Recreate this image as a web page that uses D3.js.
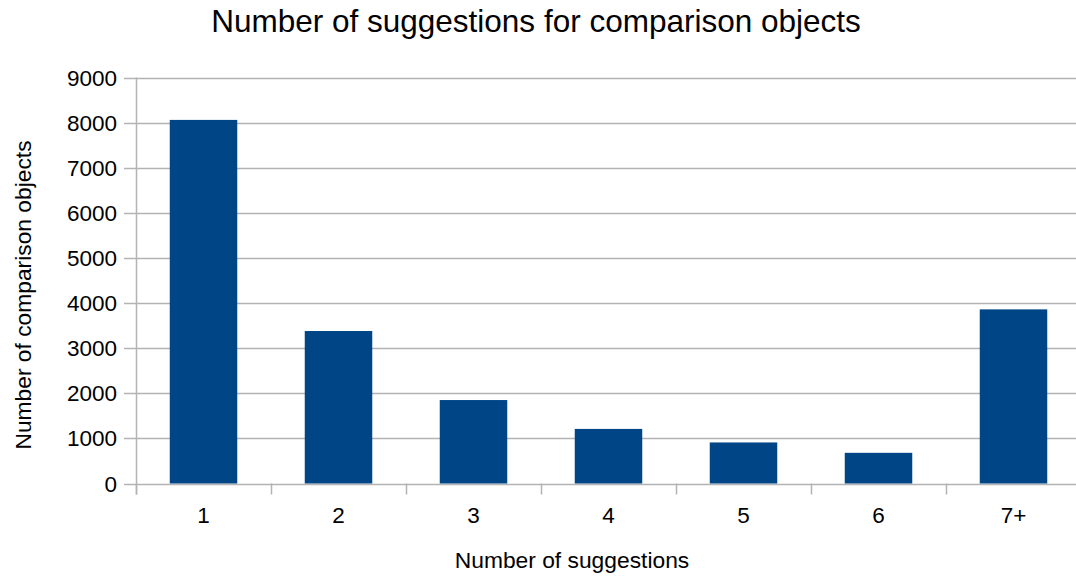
<!DOCTYPE html>
<html><head><meta charset="utf-8">
<script src="https://cdn.jsdelivr.net/npm/d3@7"></script>
<style>body{margin:0;background:#fff}svg{display:block}text{font-family:"Liberation Sans",Arial,sans-serif;fill:#000}</style>
</head><body><svg id="c" width="1076" height="576"></svg>
<script>
const categories = ["1","2","3","4","5","6","7+"];
const values = [8060, 3380, 1850, 1210, 910, 680, 3860];
const yTicks = [0,1000,2000,3000,4000,5000,6000,7000,8000,9000];
const title = "Number of suggestions for comparison objects";
const xTitle = "Number of suggestions";
const yTitle = "Number of comparison objects";

(function () {
const svg = d3.select("#c");
const pL = 136, pR = 1081, pT = 77.5, pB = 483.5;
const x = d3.scaleBand().domain(categories).range([pL, pR]).paddingInner(0).paddingOuter(0);
const y = d3.scaleLinear().domain([0, 9000]).range([pB, pT]);

// gridlines
svg.append("g").selectAll("line").data(yTicks).join("line")
  .attr("x1", pL - 12).attr("x2", 1076)
  .attr("y1", d => Math.round(y(d)) + 0.5).attr("y2", d => Math.round(y(d)) + 0.5)
  .attr("stroke", "#b3b3b3").attr("stroke-width", 1.5);

// y axis line
svg.append("line").attr("x1", pL + 0.5).attr("x2", pL + 0.5)
  .attr("y1", pT).attr("y2", pB + 11).attr("stroke", "#b3b3b3").attr("stroke-width", 1.5);

// x ticks
svg.append("g").selectAll("line").data(categories.concat(["end"])).join("line")
  .attr("x1", (d,i) => Math.round(pL + i * x.bandwidth()) + 0.5)
  .attr("x2", (d,i) => Math.round(pL + i * x.bandwidth()) + 0.5)
  .attr("y1", pB).attr("y2", pB + 11)
  .attr("stroke", "#b3b3b3").attr("stroke-width", 1.5);

// bars
const bw = x.bandwidth() * 0.5;
svg.append("g").selectAll("rect").data(values).join("rect")
  .attr("x", (d,i) => x(categories[i]) + (x.bandwidth() - bw) / 2)
  .attr("width", bw)
  .attr("y", d => y(d))
  .attr("height", d => y(0) - y(d))
  .attr("fill", "#004586");

// y tick labels
svg.append("g").selectAll("text").data(yTicks).join("text")
  .attr("x", 117).attr("y", d => y(d)).attr("dy", "0.36em")
  .attr("text-anchor", "end").attr("font-size", 22.5).text(d => d);

// x tick labels
svg.append("g").selectAll("text").data(categories).join("text")
  .attr("x", d => x(d) + x.bandwidth() / 2).attr("y", 523)
  .attr("text-anchor", "middle").attr("font-size", 22.5).text(d => d);

// titles
svg.append("text").attr("x", 536).attr("y", 32).attr("text-anchor", "middle")
  .attr("font-size", 31.5).text(title);
svg.append("text").attr("x", 572).attr("y", 568).attr("text-anchor", "middle")
  .attr("font-size", 22.8).text(xTitle);
svg.append("text").attr("transform", "translate(31,295) rotate(-90)").attr("text-anchor", "middle")
  .attr("font-size", 22.8).text(yTitle);
})();
</script></body></html>
